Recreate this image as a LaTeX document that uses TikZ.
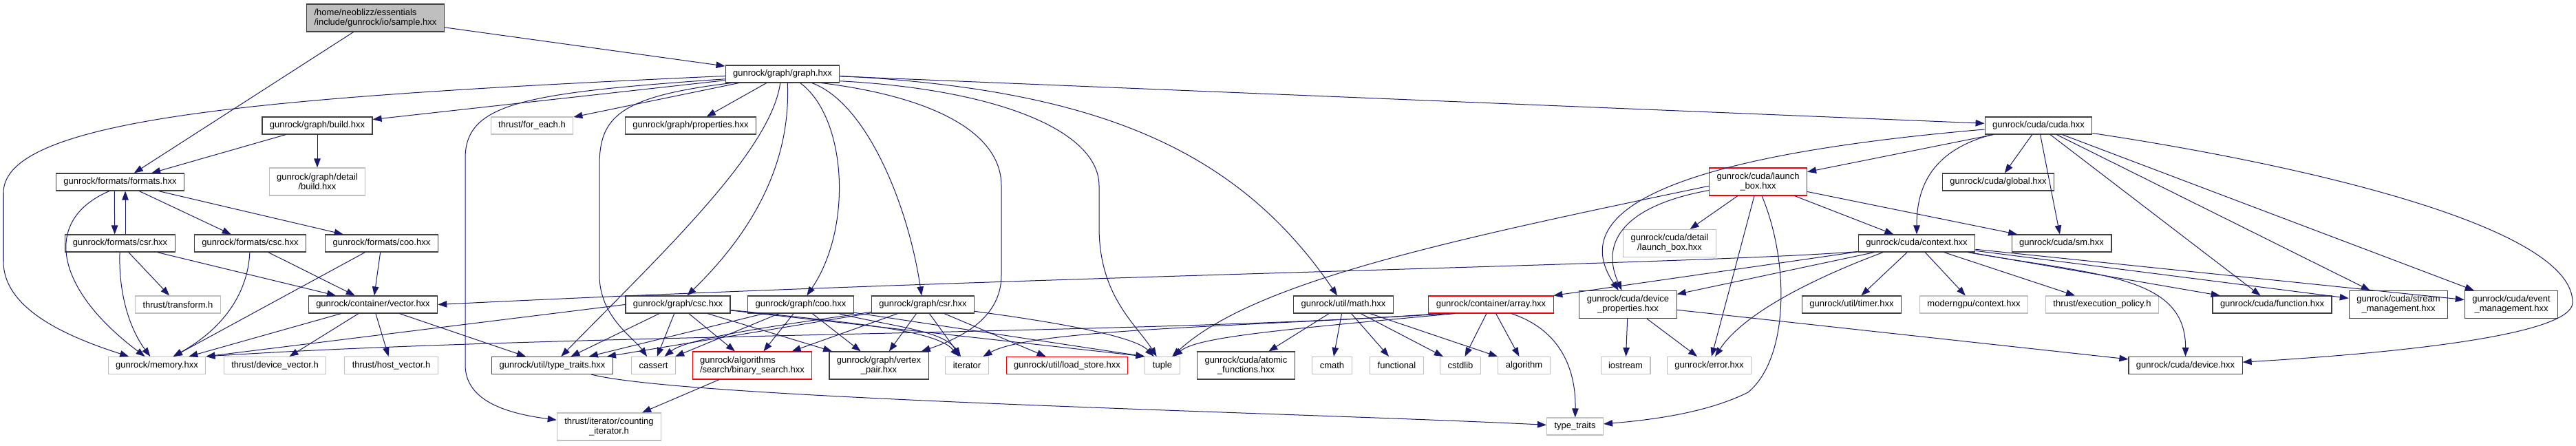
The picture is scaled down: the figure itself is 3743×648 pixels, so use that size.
\documentclass[tikz,border=0pt]{standalone}
\usepackage{fontspec}
\setmainfont{Liberation Sans}
\usepackage{xcolor}
\usepackage{tikz}
\usetikzlibrary{arrows.meta}
\definecolor{edgeblue}{HTML}{191970}
\definecolor{docgrey}{HTML}{404040}
\definecolor{sysgrey}{HTML}{BFBFBF}
\definecolor{rootfill}{HTML}{BFBFBF}
\newcommand{\doxfont}{\fontsize{7.4}{8}\selectfont}
\tikzset{
    hdr/.style={draw=docgrey, fill=white, line width=0.65pt, font=\doxfont, align=center,
        minimum height=0.5cm, inner xsep=0.22cm, inner ysep=0pt},
    syshdr/.style={hdr, draw=sysgrey},
    cuthdr/.style={hdr, draw=red},
    roothdr/.style={hdr, fill=rootfill},
    twoline/.style={minimum height=0.8cm},
    % include edge, tip stops on the box border
    dep/.style={-{Triangle[length=0.26cm, width=0.19cm]}, draw=edgeblue, line width=0.57pt},
}

\begin{document}
\begin{tikzpicture}[x=0.02cm, y=-0.02cm]
    \useasboundingbox (0,0) rectangle (3743,648);

    \node[roothdr, twoline, align=left] (sample) at (545.5,26) {/home/neoblizz/essentials\\/include/gunrock/io/sample.hxx};
    \node[hdr] (graph) at (1137,107.5) {gunrock/graph/graph.hxx};

    \node[hdr] (build) at (461,182.5) {gunrock/graph/build.hxx};
    \node[syshdr] (foreach) at (773,182.5) {thrust/for\_each.h};
    \node[hdr] (props) at (1003.5,182.5) {gunrock/graph/properties.hxx};
    \node[hdr] (cuda) at (2962,182.5) {gunrock/cuda/cuda.hxx};

    \node[hdr] (fmts) at (174.5,264.5) {gunrock/formats/formats.hxx};
    \node[syshdr, twoline] (dbuild) at (461,264) {gunrock/graph/detail\\/build.hxx};
    \node[cuthdr, twoline] (lbox) at (2554.5,264) {gunrock/cuda/launch\\\_box.hxx};
    \node[hdr] (global) at (2903.5,264.5) {gunrock/cuda/global.hxx};

    \node[hdr] (fcsr) at (174.5,353.5) {gunrock/formats/csr.hxx};
    \node[hdr] (fcsc) at (363.5,353.5) {gunrock/formats/csc.hxx};
    \node[hdr] (fcoo) at (554.5,353.5) {gunrock/formats/coo.hxx};
    \node[syshdr, twoline] (dlbox) at (2426,353.5) {gunrock/cuda/detail\\/launch\_box.hxx};
    \node[hdr] (ctx) at (2785,353.5) {gunrock/cuda/context.hxx};
    \node[hdr] (sm) at (2995.5,353.5) {gunrock/cuda/sm.hxx};

    \node[syshdr] (transform) at (258.5,442.5) {thrust/transform.h};
    \node[hdr] (vector) at (542,442.5) {gunrock/container/vector.hxx};
    \node[hdr] (gcsc) at (985,442.5) {gunrock/graph/csc.hxx};
    \node[hdr] (gcoo) at (1163.5,442.5) {gunrock/graph/coo.hxx};
    \node[hdr] (gcsr) at (1341,442.5) {gunrock/graph/csr.hxx};
    \node[hdr] (math) at (1952,442.5) {gunrock/util/math.hxx};
    \node[cuthdr] (array) at (2166.5,442.5) {gunrock/container/array.hxx};
    \node[hdr, twoline] (devprops) at (2365.5,442.5) {gunrock/cuda/device\\\_properties.hxx};
    \node[hdr] (timer) at (2690.5,442.5) {gunrock/util/timer.hxx};
    \node[syshdr] (mgpu) at (2868,442.5) {moderngpu/context.hxx};
    \node[syshdr] (execpol) at (3054.5,442.5) {thrust/execution\_policy.h};
    \node[hdr] (function) at (3301.5,442.5) {gunrock/cuda/function.hxx};
    \node[hdr, twoline] (stream) at (3485,442.5) {gunrock/cuda/stream\\\_management.hxx};
    \node[hdr, twoline] (event) at (3649,442.5) {gunrock/cuda/event\\\_management.hxx};

    \node[syshdr] (memory) at (228,531) {gunrock/memory.hxx};
    \node[syshdr] (devvec) at (399.5,531) {thrust/device\_vector.h};
    \node[syshdr] (hostvec) at (568.5,531) {thrust/host\_vector.h};
    \node[hdr] (utt) at (802.5,531) {gunrock/util/type\_traits.hxx};
    \node[syshdr] (cassert) at (949.5,531) {cassert};
    \node[cuthdr, twoline, align=left] (bsearch) at (1093,531) {gunrock/algorithms\\/search/binary\_search.hxx};
    \node[hdr, twoline] (vpair) at (1277,531) {gunrock/graph/vertex\\\_pair.hxx};
    \node[syshdr] (iterator) at (1405,531) {iterator};
    \node[cuthdr] (loadstore) at (1550.5,531) {gunrock/util/load\_store.hxx};
    \node[syshdr] (tuple) at (1689,531) {tuple};
    \node[hdr, twoline] (atomic) at (1810.5,531) {gunrock/cuda/atomic\\\_functions.hxx};
    \node[syshdr] (cmath) at (1935.5,531) {cmath};
    \node[syshdr] (functional) at (2029.5,531) {functional};
    \node[syshdr] (cstdlib) at (2122,531) {cstdlib};
    \node[syshdr] (algorithm) at (2214.5,531) {algorithm};
    \node[syshdr] (iostream) at (2362,531) {iostream};
    \node[syshdr] (error) at (2483.5,531) {gunrock/error.hxx};
    \node[hdr] (device) at (3175.5,531) {gunrock/cuda/device.hxx};

    \node[syshdr, twoline] (counting) at (885,620) {thrust/iterator/counting\\\_iterator.h};
    \node[syshdr] (typetraits) at (2288.5,619.5) {type\_traits};

    % sample.hxx
    \draw[dep] (sample) -- (graph);
    \draw[dep] (sample) -- (fmts);

    % graph.hxx
    \draw[dep] (graph) -- (build);
    \draw[dep] (graph) -- (foreach);
    \draw[dep] (graph) -- (props);
    \draw[dep] (graph) -- (cuda);
    \draw[dep] (graph.-178) .. controls (400,140) and (5,170) .. (5,280) -- (5,380) .. controls (5,450) and (100,490) .. (memory);
    \draw[dep] (graph.-175) .. controls (760,135) and (676,150) .. (676,230) -- (676,530) .. controls (676,580) and (730,600) .. (counting);
    \draw[dep] (graph.-170) .. controls (900,140) and (871,170) .. (871,240) -- (871,400) .. controls (871,460) and (920,490) .. (cassert);
    \draw[dep] (graph.-104) .. controls (1120,220) and (960,370) .. (utt);
    \draw[dep] (graph.-61) .. controls (1150,250) and (1080,350) .. (gcsc);
    \draw[dep] (graph.-27) .. controls (1230,170) and (1240,330) .. (gcoo);
    \draw[dep] (graph.-17) .. controls (1260,150) and (1320,300) .. (gcsr);
    \draw[dep] (graph.-13) .. controls (1350,140) and (1455,190) .. (1455,270) -- (1455,400) .. controls (1455,460) and (1400,490) .. (vpair);
    \draw[dep] (graph.-7) .. controls (1450,130) and (1597,190) .. (1597,270) -- (1597,330) .. controls (1597,430) and (1650,470) .. (tuple);
    \draw[dep] (graph.-2) .. controls (1600,130) and (1800,220) .. (math);

    % formats
    \draw[dep] (build) -- (fmts);
    \draw[dep] (build) -- (dbuild);
    \draw[dep] (fmts.-122) -- (fcsr.121);
    \draw[dep] (fcsr.60) -- (fmts.-60);
    \draw[dep] (fmts.-140) .. controls (60,320) and (80,420) .. (memory);
    \draw[dep] (fmts) -- (fcsc);
    \draw[dep] (fmts) -- (fcoo);
    \draw[dep] (fcsr) .. controls (172,430) and (190,480) .. (memory);
    \draw[dep] (fcsr) -- (transform);
    \draw[dep] (fcsr) -- (vector);
    \draw[dep] (fcsc) .. controls (360,430) and (320,480) .. (memory);
    \draw[dep] (fcsc) -- (vector);
    \draw[dep] (fcoo) -- (memory);
    \draw[dep] (fcoo) -- (vector);
    \draw[dep] (vector) -- (memory);
    \draw[dep] (vector) -- (devvec);
    \draw[dep] (vector) -- (hostvec);
    \draw[dep] (vector) -- (utt);

    % graph views
    \draw[dep] (gcsc.west) -- (memory.north east);
    \draw[dep] (gcsc) -- (utt);
    \draw[dep] (gcsc) -- (cassert);
    \draw[dep] (gcsc) -- (bsearch);
    \draw[dep] (gcsc) -- (vpair);
    \draw[dep] (gcsc) .. controls (1250,470) and (1360,480) .. (iterator);
    \draw[dep] (gcsc) -- (tuple.north west);
    \draw[dep] (gcoo) -- (utt);
    \draw[dep] (gcoo) -- (cassert);
    \draw[dep] (gcoo) -- (bsearch);
    \draw[dep] (gcoo) -- (vpair);
    \draw[dep] (gcoo) .. controls (1300,475) and (1370,480) .. (iterator);
    \draw[dep] (gcoo) -- (tuple.north west);
    \draw[dep] (gcsr) -- (utt);
    \draw[dep] (gcsr) .. controls (1150,470) and (1000,490) .. (cassert);
    \draw[dep] (gcsr) -- (bsearch);
    \draw[dep] (gcsr) -- (vpair);
    \draw[dep] (gcsr) -- (iterator);
    \draw[dep] (gcsr) -- (loadstore);
    \draw[dep] (gcsr) .. controls (1550,470) and (1650,490) .. (tuple);
    \draw[dep] (utt.-13) .. controls (1000,580) and (1900,600) .. (typetraits);
    \draw[dep] (bsearch) -- (counting);

    % util
    \draw[dep] (math) -- (atomic);
    \draw[dep] (math) -- (cmath);
    \draw[dep] (math) -- (functional);
    \draw[dep] (math) -- (cstdlib);
    \draw[dep] (math) -- (algorithm);
    \draw[dep] (array) -- (cstdlib);
    \draw[dep] (array) -- (algorithm);
    \draw[dep] (array.-24) .. controls (2270,480) and (2290,540) .. (typetraits);
    \draw[dep] (array.-170) .. controls (1700,485) and (800,485) .. (memory.north east);
    \draw[dep] (array.-168) .. controls (1800,475) and (1500,478) .. (iterator);
    \draw[dep] (array.-166) .. controls (1850,480) and (1740,490) .. (tuple);

    % cuda
    \draw[dep] (cuda) -- (lbox);
    \draw[dep] (cuda) -- (global);
    \draw[dep] (cuda) -- (sm);
    \draw[dep] (cuda) -- (function);
    \draw[dep] (cuda) -- (stream);
    \draw[dep] (cuda) -- (event);
    \draw[dep] (cuda.-176) .. controls (2450,225) and (2270,300) .. (devprops);
    \draw[dep] (cuda.-169) .. controls (2800,220) and (2785,280) .. (ctx);
    \draw[dep] (cuda.-8) .. controls (3350,240) and (3740,330) .. (3738,440) .. controls (3736,490) and (3450,515) .. (device);

    \draw[dep] (lbox) -- (ctx);
    \draw[dep] (lbox) -- (sm);
    \draw[dep] (lbox) -- (dlbox);
    \draw[dep] (lbox) -- (error);
    \draw[dep] (lbox.-170) .. controls (2380,295) and (2320,340) .. (devprops);
    \draw[dep] (lbox.-175) .. controls (2100,350) and (1820,410) .. (tuple);
    \draw[dep] (lbox.-75) .. controls (2600,380) and (2600,520) .. (2540,570) .. controls (2480,600) and (2400,610) .. (typetraits);

    \draw[dep] (ctx.-172) .. controls (2450,385) and (1500,400) .. (vector.east);
    \draw[dep] (ctx) -- (array);
    \draw[dep] (ctx) -- (devprops);
    \draw[dep] (ctx.-165) .. controls (2620,410) and (2530,460) .. (error);
    \draw[dep] (ctx) -- (timer);
    \draw[dep] (ctx) -- (mgpu);
    \draw[dep] (ctx) -- (execpol);
    \draw[dep] (ctx) -- (function);
    \draw[dep] (ctx) -- (stream);
    \draw[dep] (ctx) -- (event);
    \draw[dep] (ctx.-10) .. controls (3050,400) and (3176,400) .. (device);

    \draw[dep] (devprops) -- (iostream);
    \draw[dep] (devprops) -- (error);
    \draw[dep] (devprops) -- (device);
\end{tikzpicture}
\end{document}
